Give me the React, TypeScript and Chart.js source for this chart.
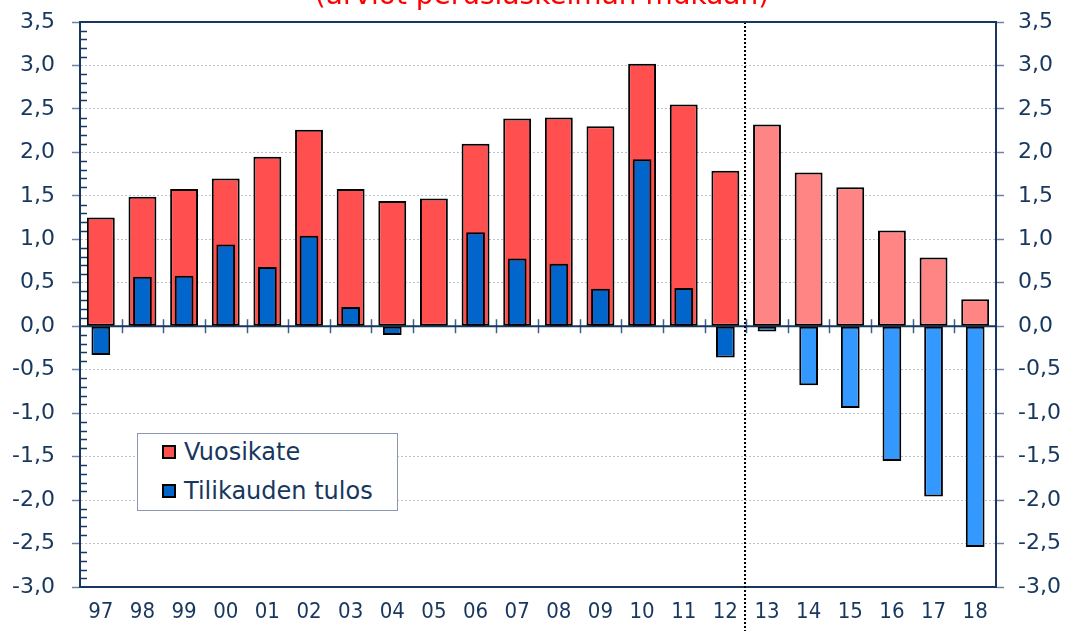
import React, { useEffect, useRef } from 'react';
import { Chart, registerables } from 'chart.js';

Chart.register(...registerables);

const categories = ['97', '98', '99', '00', '01', '02', '03', '04', '05', '06', '07', '08', '09', '10', '11', '12', '13', '14', '15', '16', '17', '18'];
const vuosikate = [1.25, 1.49, 1.58, 1.70, 1.95, 2.26, 1.58, 1.44, 1.47, 2.10, 2.39, 2.40, 2.30, 3.02, 2.55, 1.79, 2.32, 1.77, 1.60, 1.10, 0.79, 0.31];
const tulos = [-0.33, 0.57, 0.58, 0.94, 0.68, 1.04, 0.22, -0.10, 0.01, 1.08, 0.78, 0.72, 0.43, 1.92, 0.44, -0.36, -0.06, -0.68, -0.94, -1.55, -1.96, -2.54];
const forecastStart = 16; // index of '13'
const yMin = -3;
const yMax = 3.5;
const yStep = 0.5;
const titleText = '(arviot peruslaskelman mukaan)';
const seriesNames = ['Vuosikate', 'Tilikauden tulos'];

const navy = '#17375E';
const red = '#FF4F4F';
const redF = '#FF8585';
const blue = '#0066CC';
const blueF = '#3399FF';
const gridColor = '#B8C0D2';
const tickColor = '#6F82A6';
const family = '"DejaVu Sans", Verdana, sans-serif';
const familyX = '"DejaVu Sans Condensed", "DejaVu Sans", sans-serif';

const fmt = (v: number | string) => Number(v).toFixed(1).replace('.', ',');

const decor = {
  id: 'decor',
  beforeDatasetsDraw(chart: any) {
    const { ctx, chartArea: a, scales } = chart;
    const y = scales.y;
    const x = scales.x;
    const y0 = y.getPixelForValue(0);
    ctx.save();
    // minor ticks inside left axis
    ctx.strokeStyle = navy;
    ctx.lineWidth = 1.5;
    for (let k = Math.round(yMin * 10); k <= Math.round(yMax * 10); k++) {
      if (k % 5 === 0) continue;
      const py = Math.round(y.getPixelForValue(k / 10)) + 0.5;
      ctx.beginPath();
      ctx.moveTo(a.left, py);
      ctx.lineTo(a.left + 7, py);
      ctx.stroke();
    }
    // cross ticks at category boundaries on zero line
    ctx.strokeStyle = '#3F5F8F';
    ctx.lineWidth = 1.5;
    for (let i = 1; i < categories.length; i++) {
      const px = Math.round((x.getPixelForValue(i - 1) + x.getPixelForValue(i)) / 2) + 0.5;
      ctx.beginPath();
      ctx.moveTo(px, y0 - 7);
      ctx.lineTo(px, y0 + 7);
      ctx.stroke();
    }
    // zero line
    ctx.strokeStyle = navy;
    ctx.lineWidth = 2;
    ctx.beginPath();
    ctx.moveTo(a.left, y0);
    ctx.lineTo(a.right, y0);
    ctx.stroke();
    ctx.restore();
  },
  afterDatasetsDraw(chart: any) {
    const { ctx, chartArea: a, scales } = chart;
    const x = scales.x;
    ctx.save();
    // forecast divider
    const px = Math.round((x.getPixelForValue(forecastStart - 1) + x.getPixelForValue(forecastStart)) / 2) - 1;
    ctx.strokeStyle = '#000';
    ctx.lineWidth = 2;
    ctx.setLineDash([2, 2]);
    ctx.beginPath();
    ctx.moveTo(px, a.top);
    ctx.lineTo(px, chart.height);
    ctx.stroke();
    ctx.setLineDash([]);
    // top border
    ctx.strokeStyle = navy;
    ctx.lineWidth = 2;
    ctx.beginPath();
    ctx.moveTo(a.left - 1, a.top);
    ctx.lineTo(a.right + 1, a.top);
    ctx.stroke();
    // title (cut off at top)
    ctx.fillStyle = '#FF0000';
    ctx.font = `28px ${family}`;
    ctx.textAlign = 'center';
    ctx.textBaseline = 'alphabetic';
    ctx.fillText(titleText, 542, 4);
    ctx.restore();
  },
};

export default function App() {
  const ref = useRef<HTMLCanvasElement>(null);
  useEffect(() => {
    const chart = new Chart(ref.current as HTMLCanvasElement, {
      type: 'bar',
      data: {
        labels: categories,
        datasets: [
          {
            label: seriesNames[0],
            data: vuosikate,
            backgroundColor: vuosikate.map((_, i) => (i >= forecastStart ? redF : red)),
            borderColor: '#000',
            borderWidth: 2,
            borderSkipped: false,
            grouped: false,
            barPercentage: 0.67,
            categoryPercentage: 1,
            order: 2,
          } as any,
          {
            label: seriesNames[1],
            data: tulos,
            backgroundColor: tulos.map((_, i) => (i >= forecastStart ? blueF : blue)),
            borderColor: '#000',
            borderWidth: 2,
            borderSkipped: false,
            grouped: false,
            barPercentage: 0.45,
            categoryPercentage: 1,
            order: 1,
          } as any,
        ],
      },
      options: {
        animation: false,
        responsive: false,
        maintainAspectRatio: false,
        layout: { padding: { top: 22, left: 0, right: 0, bottom: 0 } },
        plugins: { legend: { display: false }, tooltip: { enabled: false } },
        scales: {
          x: {
            offset: true,
            grid: { display: false, drawTicks: false },
            border: { display: true, color: navy, width: 2 },
            ticks: { color: navy, font: { family: familyX, size: 22 }, padding: 12, maxRotation: 0, autoSkip: false },
            afterFit: (s: any) => { s.height = 44; },
          },
          y: {
            position: 'left',
            min: yMin,
            max: yMax,
            ticks: { stepSize: yStep, callback: (v: any) => fmt(v), color: navy, font: { family, size: 22, lineHeight: 0.4 }, padding: 17 },
            grid: { color: gridColor, lineWidth: 1, tickLength: 8, tickColor: tickColor, tickWidth: 1.5 },
            border: { display: true, color: navy, width: 2, dash: [2, 2] },
            afterFit: (s: any) => { s.width = 80; },
          },
          y2: {
            position: 'right',
            min: yMin,
            max: yMax,
            ticks: { stepSize: yStep, callback: (v: any) => fmt(v), color: navy, font: { family, size: 22, lineHeight: 0.4 }, padding: 14 },
            grid: { drawOnChartArea: false, tickLength: 8, tickColor: tickColor, tickWidth: 1.5 },
            border: { display: true, color: navy, width: 2 },
            afterFit: (s: any) => { s.width = 74; },
          },
        },
      } as any,
      plugins: [decor],
    });
    return () => chart.destroy();
  }, []);

  const rowStyle: React.CSSProperties = {
    position: 'absolute',
    left: 24,
    height: 30,
    display: 'flex',
    alignItems: 'center',
    fontFamily: family,
    fontSize: 24,
    color: navy,
    whiteSpace: 'nowrap',
  };
  const marker = (c: string): React.CSSProperties => ({
    width: 14,
    height: 14,
    boxSizing: 'border-box',
    border: '2px solid #000',
    background: c,
    marginRight: 8,
  });

  return (
    <div style={{ position: 'absolute', left: 0, top: 0, width: 1070, height: 631, background: '#fff', overflow: 'hidden' }}>
      <canvas ref={ref} width={1070} height={631} style={{ display: 'block', width: 1070, height: 631 }} />
      <div
        style={{
          position: 'absolute',
          left: 137,
          top: 433,
          width: 261,
          height: 78,
          boxSizing: 'border-box',
          border: '1.5px solid #8A96B4',
          background: '#fff',
        }}
      >
        <div style={{ ...rowStyle, top: 3 }}>
          <span style={marker(red)} />
          <span>{seriesNames[0]}</span>
        </div>
        <div style={{ ...rowStyle, top: 42 }}>
          <span style={marker(blue)} />
          <span>{seriesNames[1]}</span>
        </div>
      </div>
    </div>
  );
}
